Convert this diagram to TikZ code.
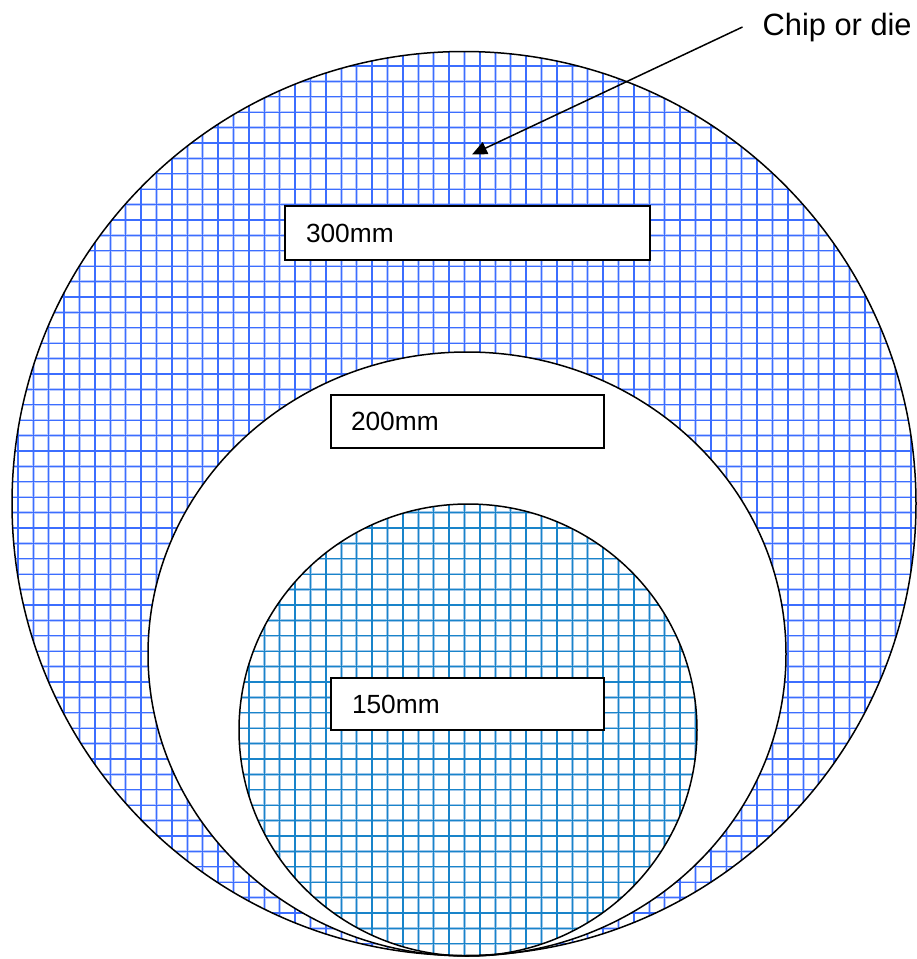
\documentclass[tikz,border=0pt]{standalone}
\usepackage{fontspec}
\setmainfont{Liberation Sans}
\usetikzlibrary{arrows.meta,calc}
\definecolor{gridA}{RGB}{60,110,255}
\definecolor{gridApale}{RGB}{185,202,255}
\definecolor{gridB}{RGB}{25,132,202}
\definecolor{gridBpale}{RGB}{160,200,234}
\newcommand\wafergrid[2]{%
  \foreach \i in {-2,...,58} {\draw[#1,line width=2.5pt] (33.3+15.4*\i,0) -- (33.3+15.4*\i,960);}
  \foreach \j in {-4,...,60} {\draw[#1,line width=2.5pt] (0,66+15.4*\j) -- (920,66+15.4*\j);}
  \foreach \i in {-2,...,58} {\draw[#2,line width=1.3pt] (33.3+15.4*\i,0) -- (33.3+15.4*\i,960);}
  \foreach \j in {-4,...,60} {\draw[#2,line width=1.3pt] (0,66+15.4*\j) -- (920,66+15.4*\j);}
}
\begin{document}
\begin{tikzpicture}[x=1pt,y=-1pt,
  outline/.style={draw=black,line width=1.5pt},
  sizebox/.style={draw=black,fill=white,line width=2pt,align=left,inner ysep=0pt,
    font=\fontsize{26.3}{30}\selectfont},
  callout/.style={draw=black,line width=1.5pt,-{Triangle[length=15pt,width=13pt]}}]
\useasboundingbox (0,0) rectangle (917,959);
% 300 mm wafer
\begin{scope}
  \clip (464,503.5) circle (452);
  \fill[white] (0,0) rectangle (917,959);
  \wafergrid{gridApale}{gridA}
\end{scope}
% 200 mm wafer
\fill[white] (467,654) ellipse [x radius=319,y radius=302];
% 150 mm wafer
\begin{scope}
  \clip (468,730) ellipse [x radius=229,y radius=226];
  \fill[white] (0,0) rectangle (917,959);
  \wafergrid{gridBpale}{gridB}
\end{scope}
\draw[outline] (464,503.5) circle (452);
\draw[outline] (467,654) ellipse [x radius=319,y radius=302];
\draw[outline] (468,730) ellipse [x radius=229,y radius=226];
% size labels
\node[sizebox,minimum width=365pt,minimum height=54pt,text width=323pt,inner xsep=21pt] (b300) at (467.5,233) {300mm};
\node[sizebox,minimum width=273pt,minimum height=53pt,text width=233pt,inner xsep=20pt] (b200) at (467.5,421.5) {200mm};
\node[sizebox,minimum width=273pt,minimum height=52pt,text width=231pt,inner xsep=21pt] (b150) at (467.5,704) {150mm};
% callout
\node[font=\fontsize{30.8}{36}\selectfont,anchor=base west,inner sep=0pt] (chip) at (762.5,35) {Chip or die};
\coordinate (die) at (472,154.5);
\draw[callout] ($(chip.base west)+(-20,-8)$) -- (die);
\end{tikzpicture}
\end{document}
